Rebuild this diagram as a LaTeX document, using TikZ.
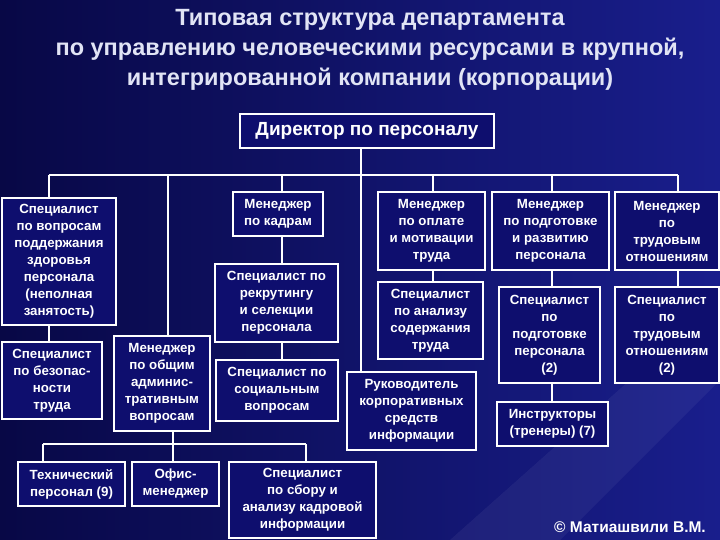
\documentclass[tikz,border=0pt]{standalone}
\usepackage{fontspec}
\setmainfont{Liberation Sans}
\begin{document}
\begin{tikzpicture}[x=1pt,y=-1pt,
  box/.style={draw=white,line width=2.5pt,fill=navyfill,text=white,align=center,
    font=\bfseries\fontsize{13.3}{17}\selectfont,inner sep=0pt},
  ln/.style={draw=white,line width=2.5pt}]
\definecolor{navyfill}{RGB}{14,14,110}
\definecolor{bgA}{RGB}{8,8,70}
\definecolor{bgB}{RGB}{25,30,140}
\definecolor{titlec}{RGB}{225,228,245}
\useasboundingbox (0,0) rectangle (720,540);
\shade[left color=bgA,right color=bgB] (0,0) rectangle (720,540);
\fill[white,opacity=0.05] (450,540) -- (720,300) -- (720,380) -- (560,540) -- cycle;
\node[text=titlec,align=center,font=\bfseries\fontsize{23.5}{30}\selectfont] (title) at (370,50)
 {Типовая структура департамента\\по управлению человеческими ресурсами в крупной,\\интегрированной компании (корпорации)};
\newcommand{\bx}[6]{\node[box,minimum width={#4-#2},minimum height={#5-#3}] (#1) at ({(#2+#4)/2},{(#3+#5)/2}) {#6};}
\bx{dir}{240}{114}{494}{148}{\fontsize{19}{21}\selectfont Директор по персоналу}
\bx{health}{2}{198}{116}{325}{Специалист\\по вопросам\\поддержания\\здоровья\\персонала\\(неполная\\занятость)}
\bx{safety}{2}{342}{102}{419}{Специалист\\по безопас-\\ности\\труда}
\bx{kadr}{233}{192}{323}{236}{Менеджер\\по кадрам}
\bx{recr}{215}{264}{338}{342}{Специалист по\\рекрутингу\\и селекции\\персонала}
\bx{soc}{216}{360}{338}{421}{Специалист по\\социальным\\вопросам}
\bx{adm}{114}{336}{210}{431}{Менеджер\\по общим\\админис-\\тративным\\вопросам}
\bx{tech}{18}{462}{125}{506}{Технический\\персонал (9)}
\bx{office}{132}{462}{219}{506}{Офис-\\менеджер}
\bx{sbor}{229}{462}{376}{538}{Специалист\\по сбору и\\анализу кадровой\\информации}
\bx{pay}{378}{192}{485}{270}{Менеджер\\по оплате\\и мотивации\\труда}
\bx{anal}{378}{282}{483}{359}{Специалист\\по анализу\\содержания\\труда}
\bx{ruk}{347}{372}{476}{450}{Руководитель\\корпоративных\\средств\\информации}
\bx{train}{492}{192}{609}{270}{Менеджер\\по подготовке\\и развитию\\персонала}
\bx{strain}{499}{287}{600}{383}{Специалист\\по\\подготовке\\персонала\\(2)}
\bx{instr}{497}{402}{608}{446}{Инструкторы\\(тренеры) (7)}
\bx{lab}{615}{192}{719}{270}{Менеджер\\по\\трудовым\\отношениям}
\bx{slab}{615}{287}{719}{383}{Специалист\\по\\трудовым\\отношениям\\(2)}
\coordinate (bL) at (49,175);
\coordinate (bR) at (678,175);
\coordinate (bD) at (361,175);
\coordinate (b2L) at (43,444);
\coordinate (b2R) at (306,444);
\draw[ln] (bL) -- (bR);
\draw[ln] (dir.south -| bD) -- (ruk.north -| bD);
\draw[ln] (bL) -- (health.north -| bL);
\draw[ln] (health.south -| bL) -- (safety.north -| bL);
\draw[ln] (168,175) -- (adm.north -| 168,0);
\draw[ln] (282,175) -- (kadr.north -| 282,0);
\draw[ln] (kadr.south -| 282,0) -- (recr.north -| 282,0);
\draw[ln] (recr.south -| 282,0) -- (soc.north -| 282,0);
\draw[ln] (433,175) -- (pay.north -| 433,0);
\draw[ln] (pay.south -| 433,0) -- (anal.north -| 433,0);
\draw[ln] (552,175) -- (train.north -| 552,0);
\draw[ln] (train.south -| 552,0) -- (strain.north -| 552,0);
\draw[ln] (strain.south -| 552,0) -- (instr.north -| 552,0);
\draw[ln] (bR) -- (lab.north -| bR);
\draw[ln] (lab.south -| bR) -- (slab.north -| bR);
\draw[ln] (adm.south -| 173,0) -- (173,444);
\draw[ln] (b2L) -- (b2R);
\draw[ln] (b2L) -- (tech.north -| b2L);
\draw[ln] (173,444) -- (office.north -| 173,0);
\draw[ln] (b2R) -- (sbor.north -| b2R);
\node[text=white,font=\bfseries\fontsize{15.5}{17}\selectfont] (copy) at (630,527) {© Матиашвили В.М.};
\end{tikzpicture}
\end{document}
